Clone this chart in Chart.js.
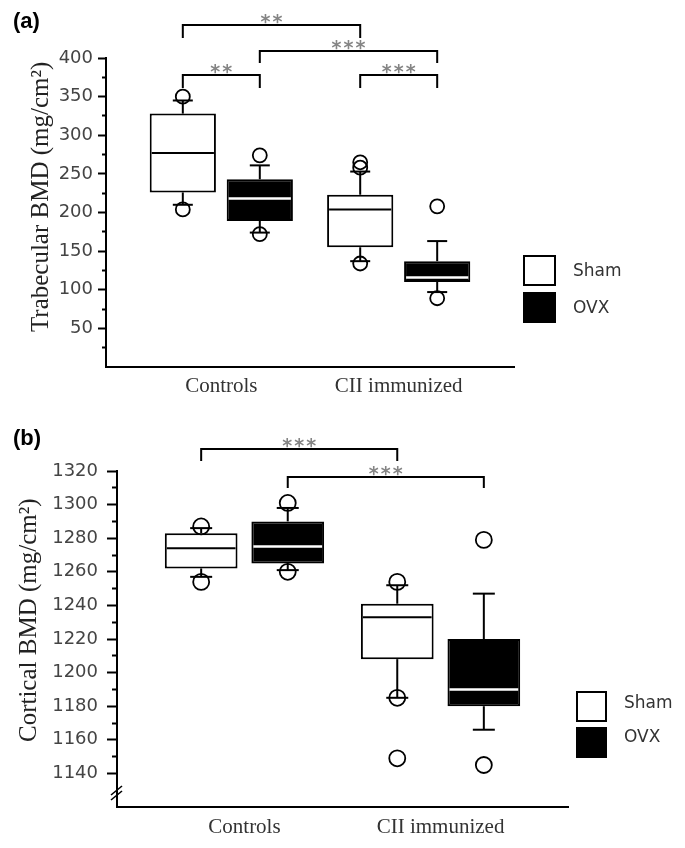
<!DOCTYPE html>
<html><head><meta charset="utf-8">
<script src="https://cdn.jsdelivr.net/npm/chart.js@4.4.1/dist/chart.umd.min.js"></script>
<style>
html,body{margin:0;padding:0;background:#fff;}
#wrap{position:relative;width:685px;height:848px;overflow:hidden;}
canvas{position:absolute;left:0;}
</style>
</head><body>
<div id="wrap">
<canvas id="ca" width="685" height="420" style="top:0;width:685px;height:420px"></canvas>
<canvas id="cb" width="685" height="428" style="top:420px;width:685px;height:428px"></canvas>
</div>
<script>
// ---------- data ----------
const categories = ['Controls', 'CII immunized'];
const seriesNames = ['Sham', 'OVX'];

// each entry: [lower whisker, Q1, median, Q3, upper whisker]
const trabShamStats = [[210, 226, 277, 328, 345], [137, 155, 204, 223, 253]];
const trabOvxStats  = [[174, 189, 218, 243, 261], [97, 110, 116, 137, 163]];
const trabShamOutliers = [[350, 204], [265, 258, 134]];
const trabOvxOutliers  = [[274, 172], [208, 89]];
const trabTickLabels = [50, 100, 150, 200, 250, 300, 350, 400];
// comparisons: [group1, series1, group2, series2, label]
const trabSig = [[0, 0, 1, 0, '**'], [0, 1, 1, 1, '***'], [0, 0, 0, 1, '**'], [1, 0, 1, 1, '***']];

const corShamStats = [[1257, 1262, 1274, 1283, 1286], [1185, 1208, 1233, 1241, 1252]];
const corOvxStats  = [[1261, 1265, 1275, 1290, 1298], [1166, 1180, 1190, 1220, 1247]];
const corShamOutliers = [[1287, 1254], [1254, 1185, 1149]];
const corOvxOutliers  = [[1301, 1260], [1279, 1145]];
const corTickLabels = [1140, 1160, 1180, 1200, 1220, 1240, 1260, 1280, 1300, 1320];
const corSig = [[0, 0, 1, 0, '***'], [0, 1, 1, 1, '***']];

// ---------- layout / style ----------
const SANS = '"DejaVu Sans", Verdana, sans-serif';
const SERIF = '"Liberation Serif", "Times New Roman", serif';
const seriesStyle = [
  {fill: '#ffffff', median: '#000000', medianWidth: 2},
  {fill: '#000000', median: '#ffffff', medianWidth: 2.5}
];

function makeDeco(P) {
  return {
    id: 'boxdeco',
    afterDatasetsDraw(chart) {
      const ctx = chart.ctx, ys = chart.scales.y;
      const px = v => ys.getPixelForValue(v);
      const seg = (x1, y1, x2, y2) => { ctx.beginPath(); ctx.moveTo(x1, y1); ctx.lineTo(x2, y2); ctx.stroke(); };
      ctx.save();
      P.series.forEach((s, si) => {
        const meta = chart.getDatasetMeta(si);
        meta.data.forEach((el, gi) => {
          const st = s.stats[gi];
          const x = el.x, w = el.width;
          ctx.strokeStyle = '#000'; ctx.lineWidth = 2;
          seg(x, px(st[3]), x, px(st[4]));
          seg(x, px(st[1]), x, px(st[0]));
          seg(x - P.capW / 2, px(st[4]), x + P.capW / 2, px(st[4]));
          seg(x - P.capW / 2, px(st[0]), x + P.capW / 2, px(st[0]));
          ctx.strokeStyle = seriesStyle[si].median; ctx.lineWidth = seriesStyle[si].medianWidth;
          seg(x - w / 2 + 2, px(st[2]), x + w / 2 - 2, px(st[2]));
          ctx.strokeStyle = '#000'; ctx.lineWidth = 1.8;
          s.outliers[gi].forEach(v => {
            ctx.beginPath(); ctx.arc(x, px(v), P.outR, 0, Math.PI * 2); ctx.stroke();
          });
        });
      });
      ctx.restore();
    },
    afterDraw(chart) {
      const ctx = chart.ctx;
      const seg = (x1, y1, x2, y2) => { ctx.beginPath(); ctx.moveTo(x1, y1); ctx.lineTo(x2, y2); ctx.stroke(); };
      ctx.save();
      // significance brackets
      P.sig.forEach((c, k) => {
        const lv = P.sigLevels[k];
        const x1 = chart.getDatasetMeta(c[1]).data[c[0]].x;
        const x2 = chart.getDatasetMeta(c[3]).data[c[2]].x;
        ctx.strokeStyle = '#000'; ctx.lineWidth = 2;
        ctx.beginPath();
        ctx.moveTo(x1, lv.y + lv.leg); ctx.lineTo(x1, lv.y); ctx.lineTo(x2, lv.y); ctx.lineTo(x2, lv.y + lv.leg);
        ctx.stroke();
        const n = c[4].length, mid = (x1 + x2) / 2;
        ctx.fillStyle = '#858585';
        ctx.font = 'bold 19px ' + SANS;
        ctx.textAlign = 'center'; ctx.textBaseline = 'alphabetic';
        for (let i = 0; i < n; i++) {
          ctx.fillText('*', mid + (i - (n - 1) / 2) * 12, lv.y - 8 + 11);
        }
      });
      // legend
      P.series.forEach((s, si) => {
        const L = P.legend[si];
        ctx.fillStyle = seriesStyle[si].fill;
        ctx.fillRect(L.x, L.y, L.w, L.h);
        ctx.strokeStyle = '#000'; ctx.lineWidth = 2;
        ctx.strokeRect(L.x + 1, L.y + 1, L.w - 2, L.h - 2);
        ctx.fillStyle = '#333';
        ctx.font = '17px ' + SANS;
        ctx.textAlign = 'left'; ctx.textBaseline = 'middle';
        ctx.fillText(s.name, L.tx, L.ty);
      });
      // panel label
      ctx.fillStyle = '#000';
      ctx.font = 'bold 22px "Liberation Sans", Arial, sans-serif';
      ctx.textAlign = 'left'; ctx.textBaseline = 'middle';
      ctx.fillText(P.panel, 13, P.panelY);
      // axis break
      if (P.axisBreak) {
        const xa = chart.chartArea.left, yb = chart.chartArea.bottom - 14;
        ctx.strokeStyle = '#000'; ctx.lineWidth = 1.6;
        seg(xa - 6, yb + 2, xa + 5, yb - 7);
        seg(xa - 6, yb + 7, xa + 5, yb - 2);
      }
      ctx.restore();
    }
  };
}

function buildChart(id, P) {
  const datasets = P.series.map((s, si) => ({
    label: s.name,
    data: s.stats.map((st, gi) => ({x: gi, y: [st[1], st[3]]})),
    backgroundColor: seriesStyle[si].fill,
    borderColor: '#000',
    borderWidth: 2,
    borderSkipped: false,
    categoryPercentage: P.catPct,
    barPercentage: P.barPct
  }));
  const isMajor = v => P.tickLabels.includes(v);
  return new Chart(document.getElementById(id), {
    type: 'bar',
    data: {datasets},
    options: {
      responsive: false,
      animation: false,
      events: [],
      layout: {padding: {left: 0, right: P.padRight, top: P.padTop, bottom: 0}},
      plugins: {legend: {display: false}, tooltip: {enabled: false}},
      scales: {
        x: {
          type: 'linear', min: -0.65, max: 1.65, offset: false,
          grid: {display: false, drawTicks: false},
          border: {display: true, color: '#000', width: 2},
          afterBuildTicks: s => { s.ticks = categories.map((_, i) => ({value: i})); },
          afterFit: s => { s.height = P.xHeight; },
          ticks: {
            autoSkip: false, maxRotation: 0, padding: P.xPad, color: '#333',
            font: {family: SERIF, size: 21},
            callback: (v, i) => categories[i]
          }
        },
        y: {
          min: P.yMin, max: P.yMax,
          afterFit: s => { s.width = P.yWidth; },
          ticks: {
            stepSize: P.minorStep, autoSkip: false, padding: P.yPad, color: '#444',
            font: {family: SANS, size: 18},
            callback: v => isMajor(v) ? String(v) : ''
          },
          grid: {
            drawOnChartArea: false, drawTicks: true, tickLength: P.tickLen, tickWidth: 2,
            tickColor: c => (c.tick && c.tick.value >= P.tickFrom) ? '#000' : 'rgba(0,0,0,0)',
            tickBorderDash: c => (c.tick && !isMajor(c.tick.value)) ? [0, P.tickLen - P.minorLen, P.minorLen + 1, 0] : []
          },
          border: {display: true, color: '#000', width: 2},
          title: {
            display: true, text: P.yTitle, color: '#222',
            font: {family: SERIF, size: 25},
            padding: {top: P.titlePad, bottom: 0}
          }
        }
      }
    },
    plugins: [makeDeco(P)]
  });
}

buildChart('ca', {
  panel: '(a)', panelY: 22,
  series: [
    {name: seriesNames[0], stats: trabShamStats, outliers: trabShamOutliers},
    {name: seriesNames[1], stats: trabOvxStats, outliers: trabOvxOutliers}
  ],
  sig: trabSig,
  sigLevels: [{y: 25, leg: 13}, {y: 51, leg: 12}, {y: 75, leg: 13}, {y: 75, leg: 13}],
  tickLabels: trabTickLabels,
  yMin: 0, yMax: 400, minorStep: 25, tickFrom: 25,
  yTitle: '     Trabecular BMD (mg/cm\u00B2)',
  padTop: 58, padRight: 171, xHeight: 53, xPad: 7,
  yWidth: 106, tickLen: 8, minorLen: 4, yPad: 5, titlePad: 26.6,
  catPct: 0.868, barPct: 0.86,
  capW: 20, outR: 7,
  legend: [
    {x: 523, y: 255, w: 33, h: 31, tx: 573, ty: 272},
    {x: 523, y: 292, w: 33, h: 31, tx: 573, ty: 309}
  ],
  axisBreak: false
});

buildChart('cb', {
  panel: '(b)', panelY: 19,
  series: [
    {name: seriesNames[0], stats: corShamStats, outliers: corShamOutliers},
    {name: seriesNames[1], stats: corOvxStats, outliers: corOvxOutliers}
  ],
  sig: corSig,
  sigLevels: [{y: 29, leg: 12}, {y: 57, leg: 11}],
  tickLabels: corTickLabels,
  yMin: 1120, yMax: 1320, minorStep: 10, tickFrom: 1140,
  yTitle: '      Cortical BMD (mg/cm\u00B2)',
  padTop: 51, padRight: 117, xHeight: 41, xPad: 8,
  yWidth: 117, tickLen: 10, minorLen: 5, yPad: 9, titlePad: 14.6,
  catPct: 0.883, barPct: 0.84,
  capW: 22, outR: 8,
  legend: [
    {x: 576, y: 271, w: 31, h: 31, tx: 624, ty: 284},
    {x: 576, y: 307, w: 31, h: 31, tx: 624, ty: 318}
  ],
  axisBreak: true
});
</script>
</body></html>
